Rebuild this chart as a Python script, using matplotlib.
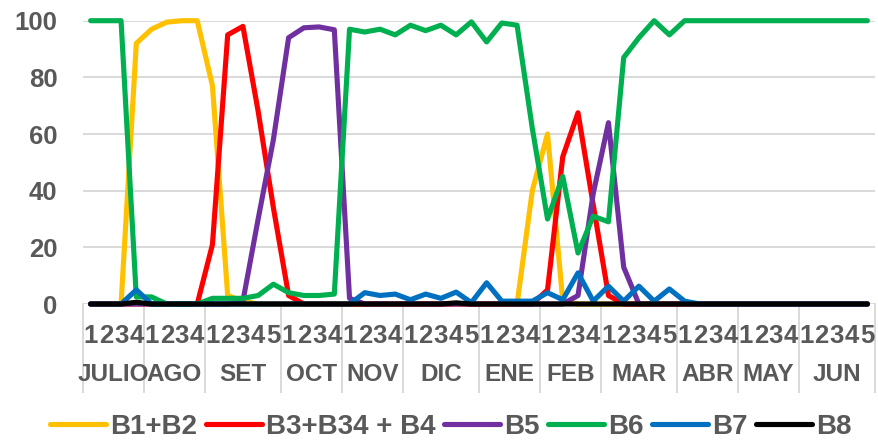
import matplotlib
matplotlib.use('Agg')
import matplotlib.pyplot as plt
import matplotlib.transforms as mtransforms
import numpy as np

plt.rcParams['font.family'] = ['Liberation Sans', 'DejaVu Sans']

months = ['JULIO', 'AGO', 'SET', 'OCT', 'NOV', 'DIC', 'ENE', 'FEB', 'MAR', 'ABR', 'MAY', 'JUN']
weeks_per_month = [4, 4, 5, 4, 4, 5, 4, 4, 5, 4, 4, 5]
week_labels = [str(w) for n in weeks_per_month for w in range(1, n + 1)]

b1_b2 = [0, 0, 0, 92, 97, 99.5, 100, 100, 77, 3, 1, 0, 0, 0, 0, 0, 0,
         0, 0, 0, 0, 0, 0, 0, 0, 0, 0, 0, 0, 40, 60, 1, 0, 0, 0, 0,
         0, 0, 0, 0, 0, 0, 0, 0, 0, 0, 0, 0, 0, 0, 0, 0]
b3_b34_b4 = [0, 0, 0, 0, 0, 0, 0, 0, 21, 95, 98, 68, 34, 3, 0, 0, 0,
             0, 0, 0, 0, 0, 0, 0, 0, 0, 0, 0, 0, 0, 5, 52, 67.5, 35, 3, 0,
             0, 0, 0, 0, 0, 0, 0, 0, 0, 0, 0, 0, 0, 0, 0, 0]
b5 = [0, 0, 0, 0, 0, 0, 0, 0, 0, 0, 1, 30, 58, 94, 97.5, 97.8, 96.8,
      2, 0, 0, 0, 0, 0, 0, 0, 0, 0, 0, 0, 0, 0, 0, 3, 39, 64, 13,
      0, 0, 0, 0, 0, 0, 0, 0, 0, 0, 0, 0, 0, 0, 0, 0]
b6 = [100, 100, 100, 2.5, 2.5, 0, 0, 0, 2, 2, 2, 3, 7, 4, 3, 3, 3.5,
      97, 96, 97, 95, 98.4, 96.5, 98.4, 95, 99.6, 92.5, 99.2, 98.4, 62, 30, 45, 18, 31, 29, 87,
      94, 100, 95, 100, 100, 100, 100, 100, 100, 100, 100, 100, 100, 100, 100, 100]
b7 = [0, 0, 0, 5, 0, 0, 0, 0, 0, 0, 0, 0, 0, 0, 0, 0, 0,
      0, 4, 3, 3.5, 1.5, 3.5, 2, 4.2, 0.5, 7.5, 1, 1, 1, 4, 1.5, 11, 1, 6.3, 1,
      6.3, 1, 5.3, 1, 0, 0, 0, 0, 0, 0, 0, 0, 0, 0, 0, 0]
b8 = [0, 0, 0, 0.6, 0, 0, 0, 0, 0, 0, 0, 0, 0, 0, 0, 0, 0,
      0, 0, 0, 0, 0, 0, 0, 0.4, 0, 0, 0, 0, 0, 0, 0, 0, 0, 0, 0,
      0, 0, 0, 0, 0, 0, 0, 0, 0, 0, 0, 0, 0, 0, 0, 0]

series = [
    ('B1+B2', b1_b2, '#FFC000'),
    ('B3+B34 + B4', b3_b34_b4, '#FF0000'),
    ('B5', b5, '#7030A0'),
    ('B6', b6, '#00B050'),
    ('B7', b7, '#0070C0'),
    ('B8', b8, '#000000'),
]

text_color = '#595959'
grid_color = '#D9D9D9'

fig = plt.figure(figsize=(8.79, 4.44), dpi=100)
ax = fig.add_axes([83 / 879, (444 - 304) / 444, (875 - 83) / 879, (304 - 20.7) / 444])

n = len(week_labels)
x = np.arange(n) + 0.5

for name, vals, col in series:
    ax.plot(x, vals, color=col, lw=3.7, label=name, clip_on=False,
            solid_joinstyle='round', solid_capstyle='round')

ax.set_xlim(0, n)
ax.set_ylim(0, 100)
ax.set_yticks([0, 20, 40, 60, 80, 100])
ax.yaxis.grid(True, color=grid_color, lw=1.4)
ax.set_axisbelow(True)
for s in ax.spines.values():
    s.set_visible(False)

ax.tick_params(axis='y', length=0, pad=18.5, labelsize=18.5, labelcolor=text_color)
for lbl in ax.get_yticklabels():
    lbl.set_fontweight('bold')

ax.set_xticks(x)
ax.set_xticklabels(week_labels, fontsize=18.5, fontweight='bold', color=text_color)
ax.tick_params(axis='x', length=0, pad=14.5)

trans = mtransforms.blended_transform_factory(ax.transData, ax.transAxes)
bounds = np.concatenate([[0], np.cumsum(weeks_per_month)])
for b in bounds:
    ax.plot([b, b], [0, -0.31], transform=trans, color=grid_color, lw=1.4,
            clip_on=False, zorder=0)
for i, m in enumerate(months):
    c = (bounds[i] + bounds[i + 1]) / 2
    ax.text(c, -0.2506, m, transform=trans, ha='center', va='center',
            fontsize=17.5, fontweight='bold', color=text_color)

leg = fig.legend(loc='center', bbox_to_anchor=(451 / 879, 17 / 444), ncol=6,
                 frameon=False, handlelength=2.0, handletextpad=0.15,
                 columnspacing=0.32, borderpad=0, borderaxespad=0,
                 prop={'size': 20, 'weight': 'bold'})
for t in leg.get_texts():
    t.set_color(text_color)

fig.savefig('out.png', dpi=100)
